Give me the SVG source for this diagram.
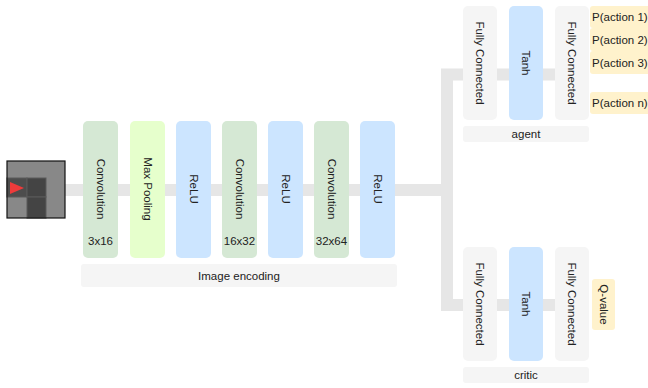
<svg xmlns="http://www.w3.org/2000/svg" width="648" height="388" viewBox="0 0 648 388">
<style>
text{font-family:"Liberation Sans",Arial,sans-serif;font-size:11.5px;fill:#222}
.c{text-anchor:middle;dominant-baseline:central}
.conv{fill:#d5e8d4}
.pool{fill:#e6ffcc}
.relu{fill:#cce5ff}
.fc{fill:#f5f5f5}
.lbl{fill:#f5f5f5}
.out{fill:#fff2cc}
.link{fill:none;stroke:#e6e6e6;stroke-width:12;stroke-linejoin:miter}
</style>
<rect width="648" height="388" fill="#fff"/>
<g id="connectors">
<path class="link" d="M65,190 H447"/>
<path class="link" d="M589,74.5 H447 V305 H589"/>
</g>
<g id="input">
<rect x="7" y="161" width="58" height="57" fill="#888"/>
<rect x="7" y="178" width="20" height="19" fill="#4d4d4d" stroke="#5a5a5a" stroke-width="1"/>
<rect x="27" y="178" width="19" height="19" fill="#444" stroke="#5a5a5a" stroke-width="1"/>
<rect x="27" y="197" width="19" height="21" fill="#444" stroke="#5a5a5a" stroke-width="1"/>
<polygon points="10,182 24,188 10,194" fill="#ee3b3b"/>
<rect x="7" y="161" width="58" height="57" fill="none" stroke="#111" stroke-width="1.2"/>
</g>
<g id="conv1"><rect class="conv" x="83" y="121" width="35" height="137" rx="5"/><text class="c" transform="translate(100.5,189) rotate(90)">Convolution</text><text class="c" x="100.5" y="241">3x16</text></g>
<g id="pool1"><rect class="pool" x="130" y="121" width="35" height="137" rx="5"/><text class="c" transform="translate(147.5,189) rotate(90)">Max Pooling</text></g>
<g id="relu1"><rect class="relu" x="176" y="121" width="35" height="137" rx="5"/><text class="c" transform="translate(193.5,189) rotate(90)">ReLU</text></g>
<g id="conv2"><rect class="conv" x="222" y="121" width="35" height="137" rx="5"/><text class="c" transform="translate(239.5,189) rotate(90)">Convolution</text><text class="c" x="239.5" y="241">16x32</text></g>
<g id="relu2"><rect class="relu" x="268" y="121" width="35" height="137" rx="5"/><text class="c" transform="translate(285.5,189) rotate(90)">ReLU</text></g>
<g id="conv3"><rect class="conv" x="314" y="121" width="35" height="137" rx="5"/><text class="c" transform="translate(331.5,189) rotate(90)">Convolution</text><text class="c" x="331.5" y="241">32x64</text></g>
<g id="relu3"><rect class="relu" x="360" y="121" width="35" height="137" rx="5"/><text class="c" transform="translate(377.5,189) rotate(90)">ReLU</text></g>
<g id="image-encoding"><rect class="lbl" x="81" y="264" width="316" height="23" rx="3"/><text class="c" x="239" y="275.5">Image encoding</text></g>
<g id="agent-fc1"><rect class="fc" x="463" y="6" width="34" height="114" rx="5"/><text class="c" transform="translate(480,63) rotate(90)">Fully Connected</text></g>
<g id="agent-tanh"><rect class="relu" x="509" y="6" width="34" height="114" rx="5"/><text class="c" transform="translate(526,63) rotate(90)">Tanh</text></g>
<g id="agent-fc2"><rect class="fc" x="555" y="6" width="34" height="114" rx="5"/><text class="c" transform="translate(572,63) rotate(90)">Fully Connected</text></g>
<g id="agent"><rect class="lbl" x="463" y="126" width="126" height="16" rx="3"/><text class="c" x="526" y="134">agent</text></g>
<g id="p1"><rect class="out" x="590" y="6" width="62" height="22" rx="3"/><text x="592" y="21">P(action 1)</text></g>
<g id="p2"><rect class="out" x="590" y="28" width="62" height="23" rx="3"/><text x="592" y="43.5">P(action 2)</text></g>
<g id="p3"><rect class="out" x="590" y="51" width="62" height="23" rx="3"/><text x="592" y="66.5">P(action 3)</text></g>
<g id="pn"><rect class="out" x="590" y="92" width="62" height="22" rx="3"/><text x="592" y="107">P(action n)</text></g>
<g id="critic-fc1"><rect class="fc" x="463" y="247" width="34" height="114" rx="5"/><text class="c" transform="translate(480,304) rotate(90)">Fully Connected</text></g>
<g id="critic-tanh"><rect class="relu" x="509" y="247" width="34" height="114" rx="5"/><text class="c" transform="translate(526,304) rotate(90)">Tanh</text></g>
<g id="critic-fc2"><rect class="fc" x="555" y="247" width="34" height="114" rx="5"/><text class="c" transform="translate(572,304) rotate(90)">Fully Connected</text></g>
<g id="critic"><rect class="lbl" x="463" y="367" width="126" height="16" rx="3"/><text class="c" x="526" y="375">critic</text></g>
<g id="qvalue"><rect class="out" x="592" y="279" width="23" height="51" rx="3"/><text class="c" transform="translate(603.5,304.5) rotate(90)">Q-value</text></g>
</svg>
